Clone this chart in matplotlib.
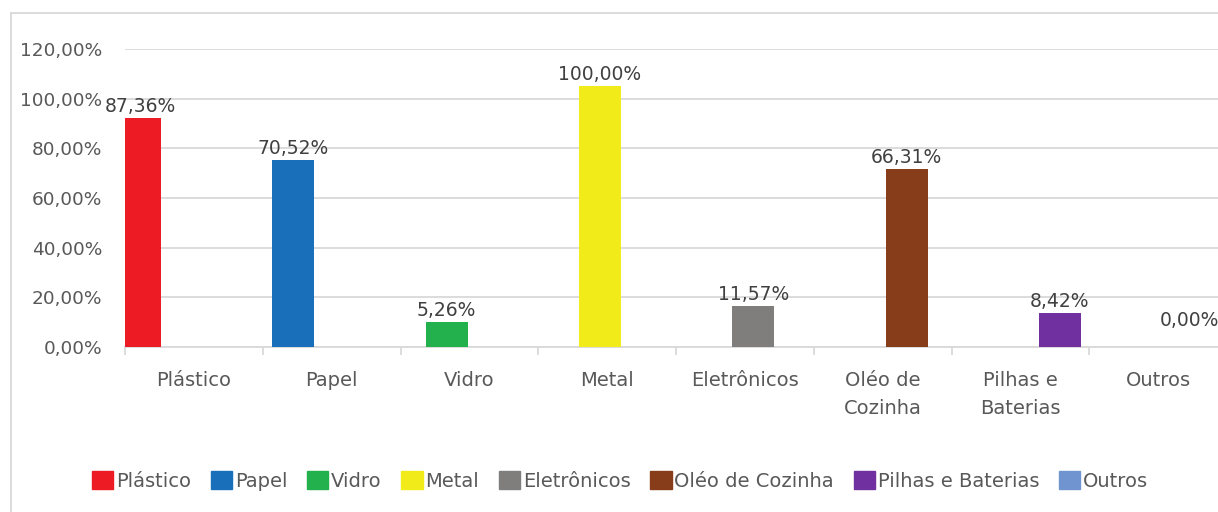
import matplotlib
matplotlib.use("Agg")
import matplotlib.pyplot as plt
from matplotlib.patches import Rectangle
from matplotlib.lines import Line2D

categories = ["Plástico", "Papel", "Vidro", "Metal", "Eletrônicos",
              "Oléo de\nCozinha", "Pilhas e\nBaterias", "Outros"]
series = ["Plástico", "Papel", "Vidro", "Metal", "Eletrônicos",
          "Oléo de Cozinha", "Pilhas e Baterias", "Outros"]
label_values = [87.36, 70.52, 5.26, 100.00, 11.57, 66.31, 8.42, 0.00]
bar_heights = [92.3, 75.4, 9.9, 105.2, 16.6, 71.5, 13.5, 0.0]
colors = ["#ED1C24", "#1A6FBA", "#22B14C", "#F2EB1A", "#7F7E7C",
          "#873C1A", "#7030A0", "#7094D0"]
yticks = [0, 20, 40, 60, 80, 100, 120]

plt.rcParams['font.family'] = ["DejaVu Sans"]

W, H = 1218, 512
fig = plt.figure(figsize=(W / 100, H / 100), dpi=100)
ax = fig.add_axes([125 / W, (H - 347) / H, (1227 - 125) / W, (347 - 49) / H])

bar_w = 0.305
for i, (h, c) in enumerate(zip(bar_heights, colors)):
    x = i - 0.391 + 0.113 * i
    ax.bar(x, h, width=bar_w, color=c, zorder=3)
    txt = f"{label_values[i]:.2f}%".replace(".", ",")
    dx = -24 if i == len(bar_heights) - 1 else 0
    dy = 12 if h == 0 else 1.5
    ax.annotate(txt, xy=(x, h), xytext=(dx * 0.72, dy), textcoords="offset points",
                ha="center", va="bottom", fontsize=13.5, color="#404040",
                annotation_clip=False, zorder=4)

ax.set_xlim(-0.5, len(categories) - 0.5)
ax.set_ylim(0, 120)
ax.set_yticks(yticks)
ax.set_yticklabels([f"{v:.2f}%".replace(".", ",") for v in yticks],
                   fontsize=13.3, color="#595959")
ax.set_xticks(range(len(categories)))
ax.set_xticklabels(categories, fontsize=14, color="#595959", linespacing=1.65)
ax.set_xticks([i - 0.5 for i in range(len(categories) + 1)], minor=True)
ax.tick_params(axis="x", which="major", length=0, pad=17)
ax.tick_params(axis="x", which="minor", length=6, color="#D9D9D9", width=1.3)
ax.tick_params(axis="y", length=0, pad=16.5)
for s in ["top", "right", "left"]:
    ax.spines[s].set_visible(False)
ax.spines["bottom"].set_color("#D9D9D9")
ax.spines["bottom"].set_linewidth(1.3)
ax.grid(axis="y", color="#D9D9D9", linewidth=1.3, zorder=0)
ax.set_axisbelow(True)

# chart border lines (left and top)
fig.add_artist(Line2D([11 / W, 11 / W], [0, (H - 13) / H], color="#D9D9D9", linewidth=1.3))
fig.add_artist(Line2D([11 / W, 1], [(H - 13) / H, (H - 13) / H], color="#D9D9D9", linewidth=1.3))

handles = [Rectangle((0, 0), 1, 1, color=c) for c in colors]
fig.legend(handles, series, loc="center", bbox_to_anchor=(620 / W, (H - 481) / H),
           ncol=len(series), frameon=False, fontsize=14, labelcolor="#595959",
           handlelength=1.1, handleheight=1.0, handletextpad=0.15,
           columnspacing=1.0, borderaxespad=0)

fig.savefig("out.png", dpi=100)
